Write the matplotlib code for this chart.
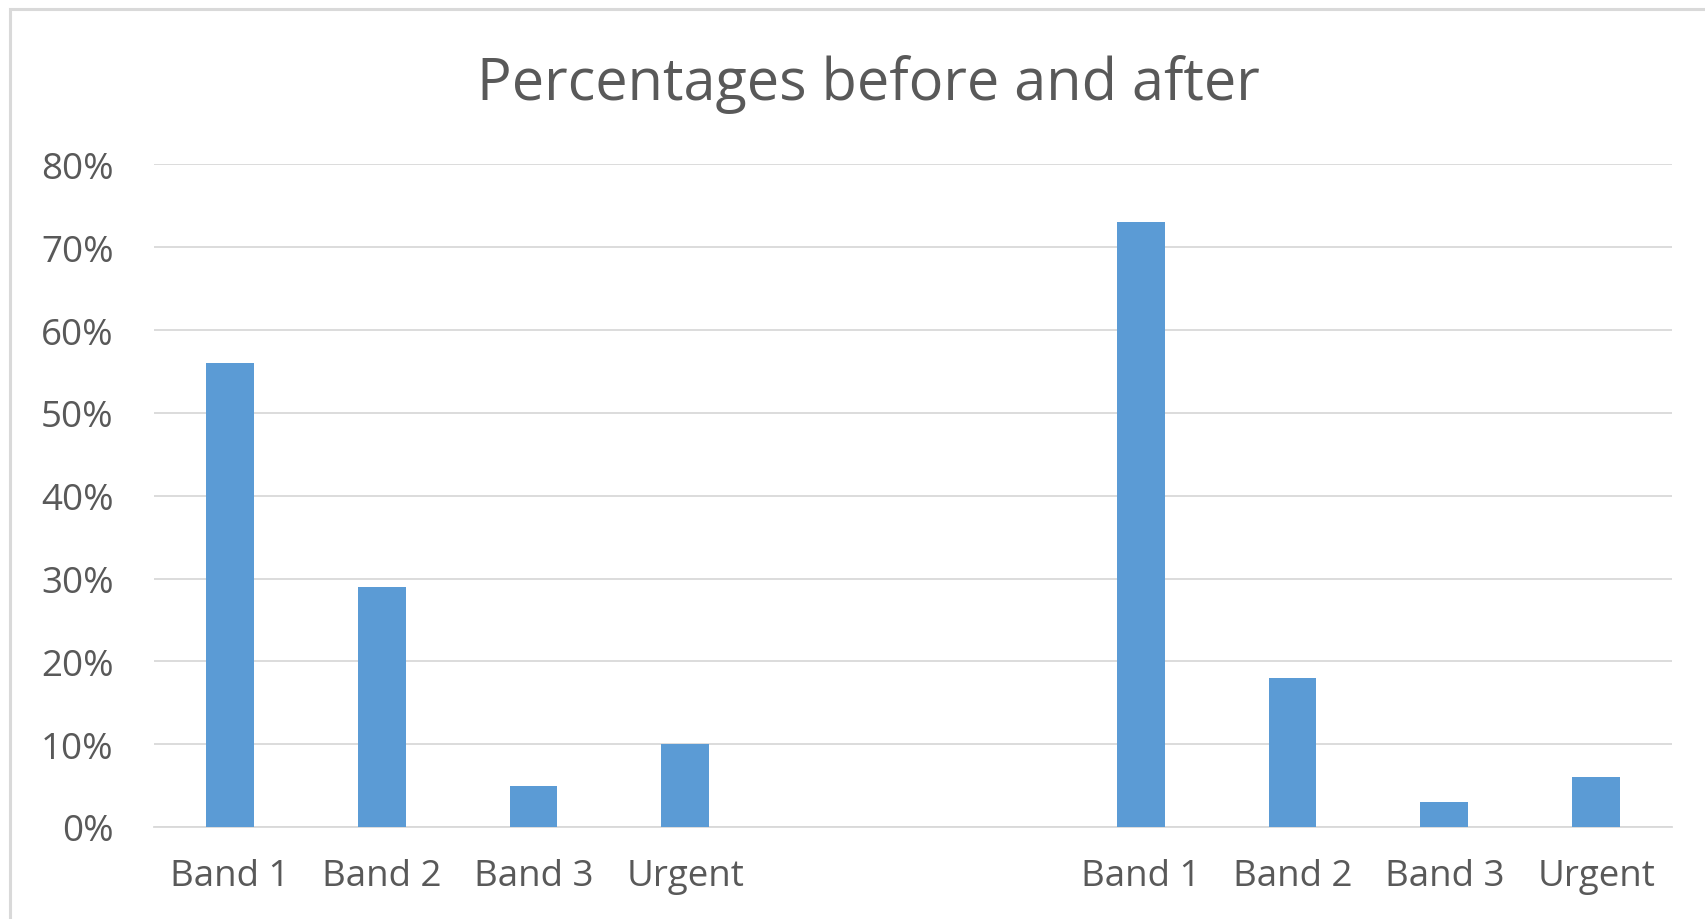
import matplotlib
matplotlib.use("Agg")
import matplotlib.pyplot as plt
from matplotlib.patches import Rectangle
from matplotlib.ticker import PercentFormatter

# Category slots: "before" group, two empty spacer slots, "after" group
categories = ["Band 1", "Band 2", "Band 3", "Urgent", "", "",
              "Band 1", "Band 2", "Band 3", "Urgent"]
values = [0.56, 0.29, 0.05, 0.10, None, None, 0.73, 0.18, 0.03, 0.06]
y_ticks = [0.0, 0.1, 0.2, 0.3, 0.4, 0.5, 0.6, 0.7, 0.8]
title = "Percentages before and after"

bar_color = "#5B9BD5"
grid_color = "#D9D9D9"
text_color = "#595959"

plt.rcParams["font.family"] = ["Open Sans", "DejaVu Sans"]

fig = plt.figure(figsize=(17.06, 9.20), dpi=100)
fig.patch.set_facecolor("white")

# chart-area frame (only its left and top edges fall inside the image)
fig.add_artist(Rectangle((10 / 1706, -0.1), 1.2, (920 - 10) / 920 + 0.1,
                         transform=fig.transFigure, fill=False,
                         edgecolor="#D9D9D9", linewidth=2.2))

ax = fig.add_axes([154 / 1706, 0.10, (1672 - 154) / 1706, 0.7202])

xs = [i for i, v in enumerate(values) if v is not None]
hs = [v for v in values if v is not None]
ax.bar(xs, hs, width=0.315, color=bar_color, zorder=3)

ax.set_xlim(-0.5, len(categories) - 0.5)
ax.set_ylim(0, 0.8)
ax.set_yticks(y_ticks)
ax.yaxis.set_major_formatter(PercentFormatter(1.0, decimals=0))
ax.set_xticks(range(len(categories)))
ax.set_xticklabels(categories)

ax.grid(axis="y", color=grid_color, linewidth=1.3, zorder=0)
ax.set_axisbelow(True)
for s in ["top", "right", "left"]:
    ax.spines[s].set_visible(False)
ax.spines["bottom"].set_color(grid_color)
ax.spines["bottom"].set_linewidth(1.3)

ax.tick_params(axis="both", length=0, colors=text_color, labelsize=26.5)
ax.tick_params(axis="y", pad=29)
ax.tick_params(axis="x", pad=22)

fig.text(868 / 1706, 1 - 85 / 920, title, ha="center", va="center",
         fontsize=41.5, color=text_color)

fig.savefig("out.png", dpi=100)
